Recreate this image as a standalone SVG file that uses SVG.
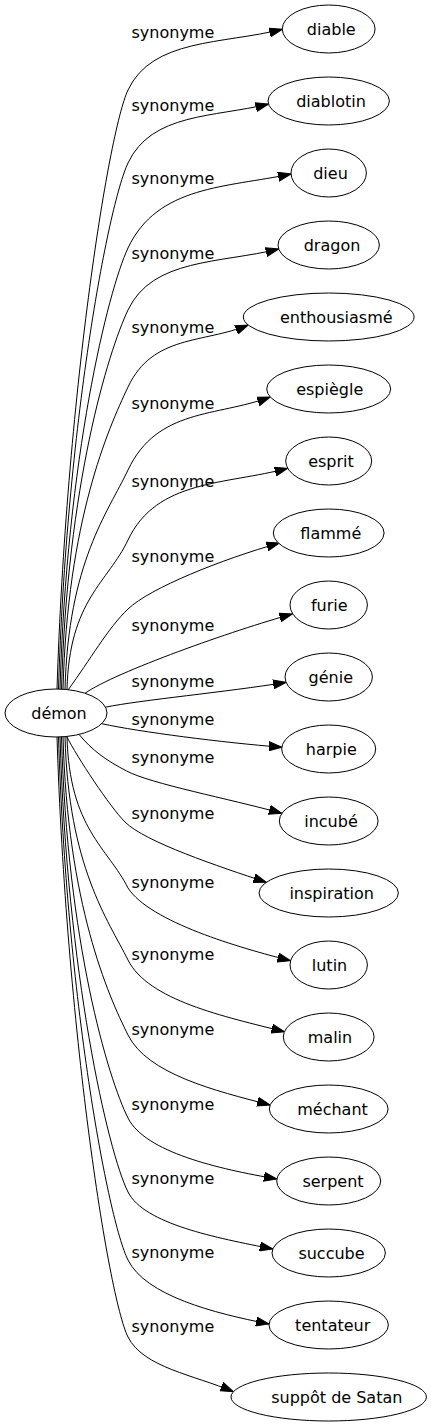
<svg xmlns="http://www.w3.org/2000/svg" width="431" height="1427" viewBox="0 0 431 1427">
<style>
text{font-family:"DejaVu Sans",Verdana,sans-serif;font-size:16px;fill:#000}
.n ellipse{fill:#fff;stroke:#000;stroke-width:1}
.n text{text-anchor:middle}
.e path{fill:none;stroke:#000;stroke-width:1;marker-end:url(#arr)}
</style>
<defs>
<marker id="arr" markerUnits="userSpaceOnUse" markerWidth="13" markerHeight="10" viewBox="0 0 13 10" refX="13" refY="5" orient="auto">
<path d="M0,0.5 L13,5 L0,9.5 Z" fill="#000" stroke="#000" stroke-width="1"/>
</marker>
</defs>
<rect width="431" height="1427" fill="#fff"/>
<g id="connectors" class="e">
<path d="M57,689.5 C66,401.7 108,132.4 128,90 C152.3,38.4 222.4,44.3 282.3,29.3"/>
<path d="M58.5,689.5 C66.4,426.2 108,205.4 128,163 C151.6,112.8 213.9,117.5 268.5,104"/>
<path d="M60,689.5 C66.6,459 108,290.4 128,248 C157.6,185.1 227.2,187.6 291,174"/>
<path d="M61.5,689.5 C67.2,485 108,352.4 128,310 C152.4,258.2 220.2,263.5 278.7,249"/>
<path d="M63,689.5 C67.5,520.4 108,429.4 128,387 C152.8,334.3 203.9,343.5 248.2,325"/>
<path d="M65,689.5 C68.3,562 108,512.4 128,470 C157.2,408 217,416.9 270.2,397"/>
<path d="M67,689.5 C69.2,599.8 108,582.4 128,540 C156.7,479.1 226,484.8 287.7,468.3"/>
<path d="M68,690 C90,660 108,628 128,609 C150,588 221.8,559.3 279.5,543"/>
<path d="M85,693.3 C115,672 234.6,629.9 292.4,614"/>
<path d="M105.5,707.2 C140,700 226.9,692.1 286.1,682.3"/>
<path d="M101.7,723.7 C140,732 222.2,742.5 282,747.3"/>
<path d="M79,734.4 C92,750 106,760.5 126.7,771 C150,783.6 228.9,798.7 281.9,813.3"/>
<path d="M66.7,736.5 C76.7,756.5 110,807 125,822 C145,842 218.9,866.5 266.3,882.3"/>
<path d="M67,736.5 C69.3,828.6 108,848 128,888 C150,922 240,948 290.6,960.7"/>
<path d="M65,736.5 C68.4,866.1 108,920 128,960 C148.1,1000.2 223.7,1016.5 284.4,1031.7"/>
<path d="M63,736.5 C67.5,903.7 108,995 128,1035 C147.6,1074.2 215.1,1090.7 270.1,1105"/>
<path d="M61.5,736.5 C67.2,941.8 108,1078 128,1118 C145.1,1152.2 218.2,1168.9 276.9,1179"/>
<path d="M60,736.5 C66.8,972.5 108,1152 128,1192 C144,1223.9 216,1237.8 272.8,1249"/>
<path d="M58.5,736.5 C66.4,998.3 108,1220 128,1260 C145.9,1295.8 213.7,1313.1 269,1324"/>
<path d="M57,736.5 C66,1024.7 108,1297 128,1337 C143.3,1367.6 194.6,1375.1 233.4,1391.7"/>
<g id="edge-labels">
<text x="131.5" y="37.5">synonyme</text>
<text x="131.5" y="110.5">synonyme</text>
<text x="131.5" y="184">synonyme</text>
<text x="131.5" y="259">synonyme</text>
<text x="131.5" y="333">synonyme</text>
<text x="131.5" y="408.5">synonyme</text>
<text x="131.5" y="486.5">synonyme</text>
<text x="131.5" y="561.5">synonyme</text>
<text x="131.5" y="630.5">synonyme</text>
<text x="131.5" y="687">synonyme</text>
<text x="131.5" y="724.5">synonyme</text>
<text x="131.5" y="763">synonyme</text>
<text x="131.5" y="819">synonyme</text>
<text x="131.5" y="887.5">synonyme</text>
<text x="131.5" y="960">synonyme</text>
<text x="131.5" y="1035">synonyme</text>
<text x="131.5" y="1110">synonyme</text>
<text x="131.5" y="1184">synonyme</text>
<text x="131.5" y="1258">synonyme</text>
<text x="131.5" y="1332">synonyme</text>
</g>
</g>
<g id="demon" class="n"><ellipse cx="56" cy="713" rx="51" ry="24"/><text x="59" y="719">démon</text></g>
<g id="diable" class="n"><ellipse cx="328.7" cy="29" rx="46.4" ry="24"/><text x="331.3" y="34.5">diable</text></g>
<g id="diablotin" class="n"><ellipse cx="328.7" cy="101" rx="60.7" ry="24"/><text x="331" y="106.5">diablotin</text></g>
<g id="dieu" class="n"><ellipse cx="328.7" cy="173" rx="37.7" ry="24"/><text x="330.5" y="178.5">dieu</text></g>
<g id="dragon" class="n"><ellipse cx="328.7" cy="245" rx="50.7" ry="24"/><text x="332" y="250.5">dragon</text></g>
<g id="enthousiasme" class="n"><ellipse cx="328.7" cy="317" rx="85.4" ry="24"/><text x="336.3" y="322.5">enthousiasmé</text></g>
<g id="espiegle" class="n"><ellipse cx="328.7" cy="389" rx="62" ry="24"/><text x="329.7" y="394.5">espiègle</text></g>
<g id="esprit" class="n"><ellipse cx="328.7" cy="461" rx="43" ry="24"/><text x="331" y="466.5">esprit</text></g>
<g id="flamme" class="n"><ellipse cx="328.7" cy="533" rx="55.4" ry="24"/><text x="330.8" y="538.5">flammé</text></g>
<g id="furie" class="n"><ellipse cx="328.7" cy="605" rx="38.7" ry="24"/><text x="329.2" y="610.5">furie</text></g>
<g id="genie" class="n"><ellipse cx="328.7" cy="677" rx="43.7" ry="24"/><text x="330.8" y="682.5">génie</text></g>
<g id="harpie" class="n"><ellipse cx="328.7" cy="749" rx="47" ry="24"/><text x="331.3" y="754.5">harpie</text></g>
<g id="incube" class="n"><ellipse cx="328.7" cy="821" rx="49.4" ry="24"/><text x="331" y="826.5">incubé</text></g>
<g id="inspiration" class="n"><ellipse cx="328.7" cy="893" rx="69.7" ry="24"/><text x="331.7" y="898.5">inspiration</text></g>
<g id="lutin" class="n"><ellipse cx="328.7" cy="965" rx="38.7" ry="24"/><text x="329.5" y="970.5">lutin</text></g>
<g id="malin" class="n"><ellipse cx="328.7" cy="1037" rx="45.4" ry="24"/><text x="330" y="1042.5">malin</text></g>
<g id="mechant" class="n"><ellipse cx="328.7" cy="1109" rx="59.4" ry="24"/><text x="332.5" y="1114.5">méchant</text></g>
<g id="serpent" class="n"><ellipse cx="328.7" cy="1181" rx="52" ry="24"/><text x="333" y="1186.5">serpent</text></g>
<g id="succube" class="n"><ellipse cx="328.7" cy="1253" rx="56.7" ry="24"/><text x="331.5" y="1258.5">succube</text></g>
<g id="tentateur" class="n"><ellipse cx="328.7" cy="1325" rx="59.7" ry="24"/><text x="332.7" y="1330.5">tentateur</text></g>
<g id="suppot" class="n"><ellipse cx="328.7" cy="1397" rx="97.7" ry="24"/><text x="336.8" y="1402.5">suppôt de Satan</text></g>
</svg>
